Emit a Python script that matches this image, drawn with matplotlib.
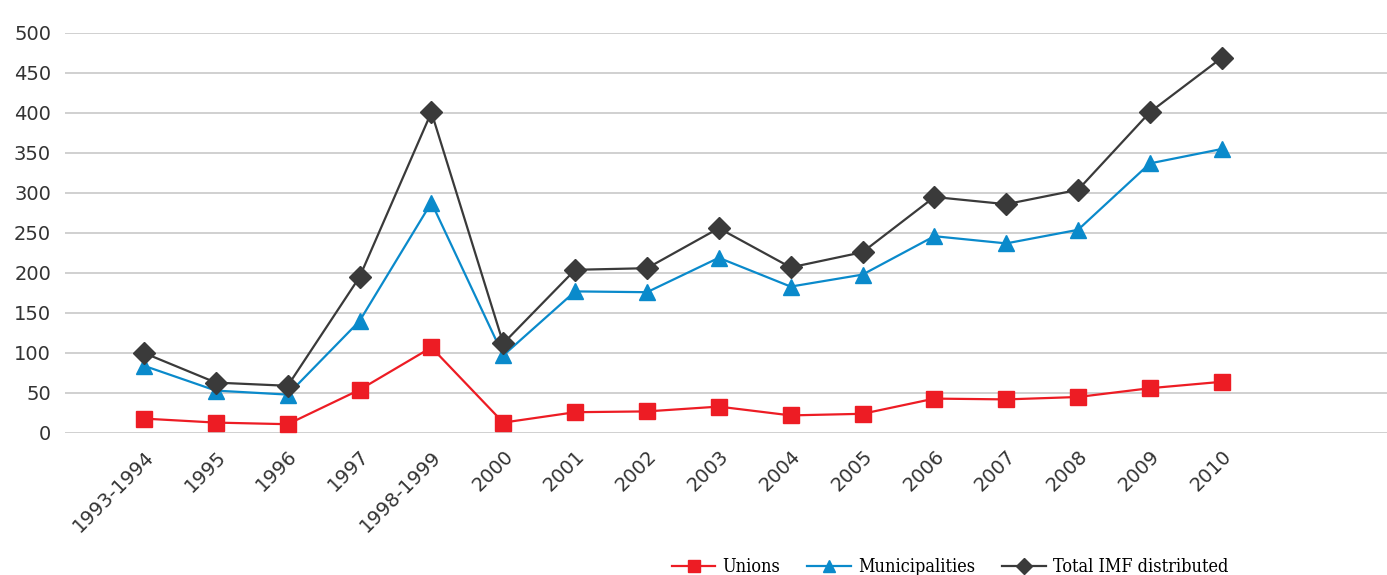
import matplotlib.pyplot as plt

years = ['1993-1994', '1995', '1996', '1997', '1998-1999', '2000', '2001', '2002',
         '2003', '2004', '2005', '2006', '2007', '2008', '2009', '2010']

unions = [18, 13, 11, 54, 107, 13, 26, 27, 33, 22, 24, 43, 42, 45, 56, 64]
municipalities = [84, 53, 48, 140, 288, 97, 177, 176, 219, 183, 198, 246, 237, 254, 337, 355]
total = [100, 63, 59, 195, 401, 112, 204, 206, 256, 207, 226, 295, 286, 304, 401, 469]

fig = plt.figure(figsize=(13.87, 5.75), dpi=100)
ax = fig.add_axes([65 / 1387, 1 - 433 / 575, 1 - 65 / 1387, 400 / 575])

x = list(range(len(years)))

ax.plot(x, unions, color='#ED1C24', lw=1.6, marker='s', ms=11, label='Unions', clip_on=False)
ax.plot(x, municipalities, color='#0A8ACB', lw=1.6, marker='^', ms=11, label='Municipalities', clip_on=False)
ax.plot(x, total, color='#3A3A3A', lw=1.6, marker='D', ms=11, label='Total IMF distributed', clip_on=False)

ax.set_ylim(0, 500)
ax.set_xlim(-1.1, 17.3)
ax.set_yticks(range(0, 501, 50))
ax.yaxis.grid(True, color='#C4C4C4', lw=1.1)
ax.set_axisbelow(True)
for s in ax.spines.values():
    s.set_visible(False)
ax.tick_params(axis='both', length=0, labelsize=14, colors='#333333', pad=10)

ax.set_xticks(x)
ax.set_xticklabels(years, rotation=45, ha='right', va='top', rotation_mode='anchor')

leg = fig.legend(loc='lower center', bbox_to_anchor=(950 / 1387, -0.03), ncol=3, frameon=False,
                 prop={'family': 'DejaVu Serif', 'stretch': 'condensed', 'size': 13},
                 handlelength=2.4, columnspacing=1.5, handletextpad=0.4, markerscale=0.75)

fig.savefig('out.png', dpi=100)
